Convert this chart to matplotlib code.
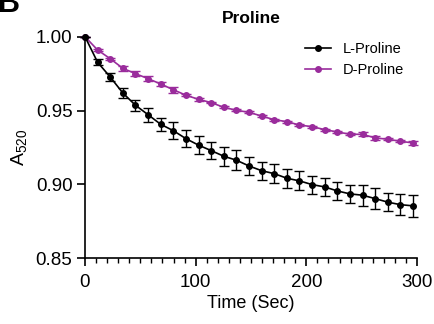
import numpy as np
import matplotlib.pyplot as plt
from matplotlib.ticker import MultipleLocator

plt.rcParams['font.family'] = ['Liberation Sans', 'DejaVu Sans']

# time points (s)
time = [0, 11.4, 22.8, 34.2, 45.6, 57.0, 68.4, 79.8, 91.2, 102.6, 114.0, 125.4, 136.8,
        148.2, 159.6, 171.0, 182.4, 193.8, 205.2, 216.6, 228.0, 239.4, 250.8, 262.2,
        273.6, 285.0, 296.4]

l_proline = [1.000, 0.9827, 0.9727, 0.9619, 0.9536, 0.9472, 0.9407, 0.9364, 0.9310,
             0.9266, 0.9229, 0.9191, 0.9164, 0.9125, 0.9093, 0.9073, 0.9042, 0.9024,
             0.8999, 0.8983, 0.8956, 0.8936, 0.8927, 0.8904, 0.8880, 0.8863, 0.8855]
l_err = [0.0, 0.0020, 0.0029, 0.0034, 0.0037, 0.0046, 0.0046, 0.0058, 0.0058, 0.0059,
         0.0059, 0.0065, 0.0066, 0.0063, 0.0062, 0.0065, 0.0063, 0.0065, 0.0061, 0.0063,
         0.0059, 0.0063, 0.0070, 0.0070, 0.0061, 0.0070, 0.0073]

d_proline = [1.000, 0.9910, 0.9851, 0.9786, 0.9750, 0.9716, 0.9680, 0.9641, 0.9604,
             0.9576, 0.9554, 0.9522, 0.9502, 0.9488, 0.9463, 0.9438, 0.9425, 0.9402,
             0.9391, 0.9371, 0.9355, 0.9340, 0.9339, 0.9315, 0.9306, 0.9292, 0.9281]
d_err = [0.0, 0.0006, 0.0008, 0.0016, 0.0018, 0.0017, 0.0012, 0.0019, 0.0008, 0.0008,
         0.0006, 0.0006, 0.0006, 0.0006, 0.0006, 0.0006, 0.0006, 0.0006, 0.0006, 0.0006,
         0.0006, 0.0006, 0.0013, 0.0013, 0.0006, 0.0006, 0.0015]

purple = '#9A2C9C'

fig = plt.figure(figsize=(4.35, 3.24), dpi=100)
ax = fig.add_axes([0.1954, 0.2028, 0.7632, 0.6839])

ax.errorbar(time, l_proline, yerr=l_err, color='black', marker='o', markersize=4,
            linewidth=1.2, elinewidth=1.0, capsize=3.5, capthick=1.0, label='L-Proline',
            clip_on=False, zorder=3)
ax.errorbar(time, d_proline, yerr=d_err, color=purple, marker='o', markersize=4,
            linewidth=1.2, elinewidth=1.0, capsize=3.5, capthick=1.0, label='D-Proline',
            clip_on=False, zorder=2)

ax.set_xlim(0, 300)
ax.set_ylim(0.85, 1.00)
ax.xaxis.set_major_locator(MultipleLocator(100))
ax.xaxis.set_minor_locator(MultipleLocator(10))
ax.set_yticks([0.85, 0.90, 0.95, 1.00])
ax.set_yticklabels(['0.85', '0.90', '0.95', '1.00'])

for s in ['top', 'right']:
    ax.spines[s].set_visible(False)
for s in ['left', 'bottom']:
    ax.spines[s].set_linewidth(1.2)
ax.tick_params(axis='both', which='major', length=6, width=1.2, labelsize=13.5)
ax.tick_params(axis='x', which='major', pad=5)
ax.tick_params(axis='y', which='major', pad=3)
ax.tick_params(axis='x', which='minor', length=3.5, width=1.0)

ax.set_xlabel('Time (Sec)', fontsize=13, labelpad=3)
ax.set_ylabel(r'A$_{\mathregular{520}}$', fontsize=14, labelpad=4)
ax.set_title('Proline', fontsize=12.5, fontweight='bold', pad=10)

h, lab = ax.get_legend_handles_labels()
h = [x[0] for x in h]
ax.legend(h, lab, loc='upper right', bbox_to_anchor=(1.0, 1.035), frameon=False,
          fontsize=10.5, handlelength=1.8, handletextpad=0.8, labelspacing=0.45)

fig.text(-0.005, 0.963, 'B', fontsize=22, fontweight='bold', va='baseline')

fig.savefig('out.png', dpi=100)
